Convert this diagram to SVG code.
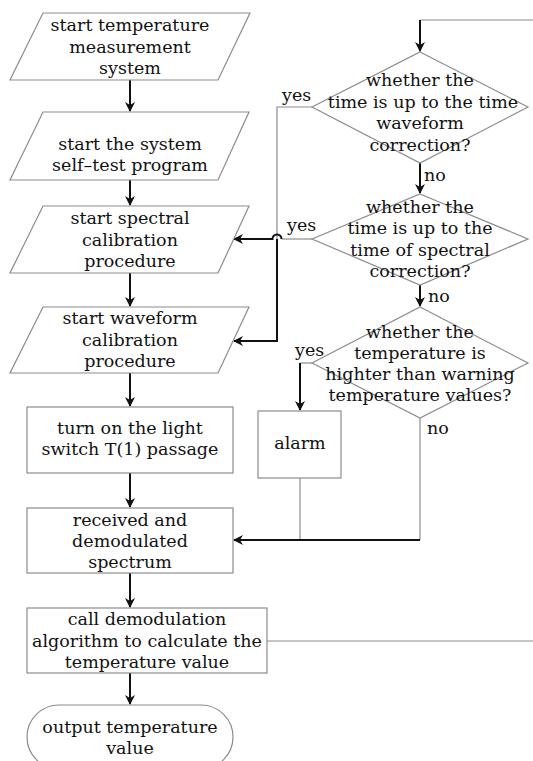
<svg xmlns="http://www.w3.org/2000/svg" width="533" height="761" viewBox="0 0 533 761">
<style>
.n{fill:#fff;stroke:#8c8c8c;stroke-width:1.2}
.t{font-family:"DejaVu Serif","Liberation Serif",serif;font-size:17.5px;fill:#111;text-anchor:middle;dominant-baseline:central}
.l{font-family:"DejaVu Serif","Liberation Serif",serif;font-size:17.5px;fill:#111;dominant-baseline:central}
.a{fill:none;stroke:#111;stroke-width:2}
.g{fill:none;stroke:#8c8c8c;stroke-width:1.2}
</style>
<defs>
<marker id="ah" viewBox="0 0 10 10" refX="9" refY="5" markerWidth="10" markerHeight="10" markerUnits="userSpaceOnUse" orient="auto">
<path d="M0,0 L10,5 L0,10 L3,5 z" fill="#111"/>
</marker>
</defs>
<g id="connectors">
<path class="a" d="M130,80 V111" marker-end="url(#ah)"/>
<path class="a" d="M130,180 V205" marker-end="url(#ah)"/>
<path class="a" d="M130,273 V306" marker-end="url(#ah)"/>
<path class="a" d="M130,373 V406" marker-end="url(#ah)"/>
<path class="a" d="M130,473 V507" marker-end="url(#ah)"/>
<path class="a" d="M130,573 V607" marker-end="url(#ah)"/>
<path class="a" d="M130,673 V704" marker-end="url(#ah)"/>
<path class="g" d="M533,20 H420"/>
<path class="a" d="M420,20 V51" marker-end="url(#ah)"/>
<path class="a" d="M420,163 V193" marker-end="url(#ah)"/>
<path class="a" d="M420,285 V306" marker-end="url(#ah)"/>
<path class="g" d="M312,107 H277 V239"/>
<path class="a" d="M277,239 V341 H234" marker-end="url(#ah)"/>
<path class="g" d="M312,239 H281.5"/>
<path class="a" d="M281.5,239 A4.5,4.5 0 0 0 272.5,239 H234" marker-end="url(#ah)"/>
<path class="g" d="M312,363 H300"/>
<path class="a" d="M300,363 V410" marker-end="url(#ah)"/>
<path class="g" d="M300,478 V540"/>
<path class="g" d="M420,418 V540"/>
<path class="a" d="M420,540 H234" marker-end="url(#ah)"/>
<path class="g" d="M267,641 H533"/>
</g>
<g id="n1">
<polygon class="n" points="43,13 250,13 218,80 10,80"/>
<text class="t" x="130" y="25">start temperature</text>
<text class="t" x="130" y="47">measurement</text>
<text class="t" x="130" y="68">system</text>
</g>
<g id="n2">
<polygon class="n" points="43,112 249,112 218,180 10,180"/>
<text class="t" x="130" y="144">start the system</text>
<text class="t" x="130" y="165">self–test program</text>
</g>
<g id="n3">
<polygon class="n" points="43,206 249,206 218,273 10,273"/>
<text class="t" x="130" y="218">start spectral</text>
<text class="t" x="130" y="240">calibration</text>
<text class="t" x="130" y="261">procedure</text>
</g>
<g id="n4">
<polygon class="n" points="43,307 249,307 218,373 10,373"/>
<text class="t" x="130" y="318">start waveform</text>
<text class="t" x="130" y="340">calibration</text>
<text class="t" x="130" y="361">procedure</text>
</g>
<g id="n5">
<rect class="n" x="27" y="407" width="206" height="66"/>
<text class="t" x="130" y="428">turn on the light</text>
<text class="t" x="130" y="449">switch T(1) passage</text>
</g>
<g id="n6">
<rect class="n" x="27" y="508" width="206" height="65"/>
<text class="t" x="130" y="520">received and</text>
<text class="t" x="130" y="541">demodulated</text>
<text class="t" x="130" y="562">spectrum</text>
</g>
<g id="n7">
<rect class="n" x="27" y="608" width="240" height="65"/>
<text class="t" x="147" y="619">call demodulation</text>
<text class="t" x="147" y="641">algorithm to calculate the</text>
<text class="t" x="147" y="662">temperature value</text>
</g>
<g id="n8">
<rect class="n" x="27" y="705" width="206" height="64" rx="32" ry="32"/>
<text class="t" x="130" y="727">output temperature</text>
<text class="t" x="130" y="748">value</text>
</g>
<g id="d1">
<polygon class="n" points="420,52 528,107 420,163 312,107"/>
<text class="t" x="420" y="80">whether the</text>
<text class="t" x="423" y="102">time is up to the time</text>
<text class="t" x="420" y="123">waveform</text>
<text class="t" x="420" y="145">correction?</text>
</g>
<g id="d2">
<polygon class="n" points="420,194 528,239 420,285 312,239"/>
<text class="t" x="420" y="207">whether the</text>
<text class="t" x="420" y="228">time is up to the</text>
<text class="t" x="420" y="250">time of spectral</text>
<text class="t" x="420" y="271">correction?</text>
</g>
<g id="d3">
<polygon class="n" points="420,307 528,363 420,418 312,363"/>
<text class="t" x="420" y="332">whether the</text>
<text class="t" x="420" y="353">temperature is</text>
<text class="t" x="420" y="374">highter than warning</text>
<text class="t" x="420" y="395">temperature values?</text>
</g>
<g id="n9">
<rect class="n" x="258" y="411" width="83" height="67"/>
<text class="t" x="300" y="443">alarm</text>
</g>
<g id="labels">
<text class="l" x="282" y="95">yes</text>
<text class="l" x="424" y="175">no</text>
<text class="l" x="287" y="225">yes</text>
<text class="l" x="428" y="296">no</text>
<text class="l" x="295" y="350">yes</text>
<text class="l" x="427" y="428">no</text>
</g>
</svg>
